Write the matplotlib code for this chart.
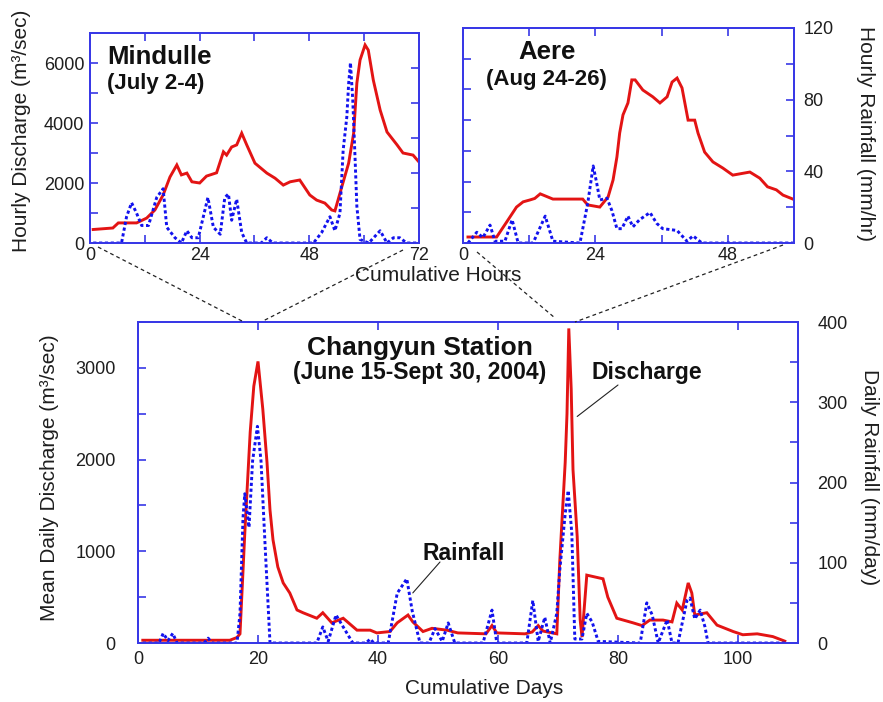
import matplotlib
matplotlib.use('Agg')
import matplotlib.pyplot as plt
from matplotlib.lines import Line2D

plt.rcParams['font.family'] = ['Liberation Sans', 'DejaVu Sans']

# ---------------- data ----------------
# Main chart: Changyun Station, daily values
days_q = [0.8, 15.3, 16.5, 17.0, 17.8, 18.7, 19.3, 20.0, 20.8, 21.5, 22.0, 22.5, 23.3, 24.2, 25.3,
          26.5, 27.5, 29.8, 30.8, 32.3, 34.2, 36.5, 38.7, 39.8, 42.0, 43.2, 45.0, 45.8, 47.5, 49.0,
          51.5, 53.3, 58.0, 59.0, 59.8, 64.5, 65.7, 66.7, 67.5, 69.8, 70.3, 71.2, 71.5, 71.8, 72.2,
          72.5, 73.2, 73.7, 74.0, 74.8, 77.5, 78.3, 79.8, 82.5, 84.0, 85.3, 87.5, 89.0, 89.8, 90.7,
          91.7, 92.3, 92.8, 94.8, 96.5, 99.2, 100.8, 103.2, 105.8, 107.8]
discharge_daily = [30, 30, 60, 100, 1200, 2300, 2800, 3070, 2550, 1970, 1450, 1125, 830, 655, 545,
                   360, 330, 270, 330, 220, 270, 140, 140, 110, 125, 220, 305, 230, 125, 160,
                   140, 110, 100, 190, 110, 100, 120, 190, 130, 100, 900, 1970, 2500, 3430, 2770,
                   1890, 1160, 250, 65, 740, 700, 500, 270, 220, 190, 250, 250, 230, 435, 360,
                   655, 545, 305, 330, 195, 125, 90, 100, 70, 20]

days_r = [0.8, 3.5, 4.2, 5.0, 5.8, 6.5, 11.0, 11.7, 12.3, 16.5, 17.0, 17.5, 17.8, 18.5, 19.1,
          19.9, 20.5, 21.2, 22.0, 29.8, 30.8, 31.7, 33.0, 34.2, 35.8, 38.0, 38.7, 39.3, 41.7, 43.2,
          44.8, 45.7, 47.0, 48.5, 49.5, 50.7, 51.7, 52.8, 57.5, 59.0, 59.8, 64.8, 65.8, 66.7, 67.8,
          68.7, 69.8, 70.3, 71.2, 71.7, 72.3, 72.8, 74.0, 74.8, 75.7, 76.7, 83.7, 84.8, 85.7, 86.7,
          88.2, 89.0, 90.0, 91.5, 92.0, 92.8, 93.7, 94.5, 95.0, 108.0]
rain_daily = [0, 0, 12, 3, 12, 0, 0, 6, 0, 0, 37, 156, 186, 144, 227,
              270, 227, 119, 0, 0, 20, 2, 35, 20, 0, 0, 5, 0, 0, 62,
              80, 40, 0, 0, 18, 2, 25, 0, 0, 41, 0, 0, 53, 2, 32,
              0, 37, 91, 161, 190, 137, 5, 5, 37, 26, 2, 0, 50, 35, 0,
              29, 0, 0, 53, 56, 30, 41, 20, 0, 0]

# Inset 1: Mindulle (July 2-4), hourly
hours_q1 = [0.7, 5.0, 6.2, 10.2, 12.4, 14.2, 16.0, 17.5, 19.0, 20.0, 21.2, 22.3, 24.0, 25.5, 27.7,
            29.2, 29.9, 31.0, 32.1, 33.2, 34.3, 36.1, 38.7, 40.5, 42.3, 43.8, 45.9, 48.1, 49.6, 51.4,
            52.9, 53.6, 55.1, 56.6, 57.7, 58.4, 59.1, 60.2, 60.9, 62.0, 63.5, 65.0, 67.2, 68.5, 70.7, 72.0]
discharge_m = [450, 500, 670, 670, 830, 1100, 1600, 2200, 2600, 2270, 2330, 2040, 2000, 2230, 2340,
               3040, 2930, 3200, 3270, 3660, 3270, 2660, 2330, 2160, 1930, 2040, 2100, 1600, 1430, 1330,
               1100, 1070, 1870, 2660, 3660, 5330, 6100, 6600, 6430, 5430, 4430, 3700, 3270, 3000, 2930, 2700]
hours_r1 = [0.7, 6.9, 8.0, 9.1, 10.2, 11.3, 12.8, 14.6, 16.0, 16.8, 18.6, 20.0, 21.2, 22.3, 23.7,
            24.8, 25.8, 27.0, 28.5, 29.5, 30.3, 31.0, 32.1, 33.2, 34.3, 37.5, 38.7, 40.0, 48.9, 50.7,
            52.5, 53.6, 54.7, 55.4, 56.2, 56.6, 57.0, 57.5, 58.0, 58.4, 59.1, 61.0, 63.5, 65.0, 66.4,
            67.8, 69.3, 72.0]
rain_m = [0, 0, 15, 23, 17, 10, 10, 26, 31, 9, 3, 0, 7, 3, 3,
          15, 26, 9, 5, 26, 28, 13, 25, 6, 0, 0, 3, 0, 0, 6,
          15, 7, 17, 53, 72, 91, 103, 82, 49, 21, 2, 0, 7, 0, 3,
          3, 0, 0]

# Inset 2: Aere (Aug 24-26), hourly
hours_q2 = [0.9, 6.1, 7.9, 9.7, 10.9, 12.1, 13.0, 14.0, 16.3, 18.1, 21.7, 22.6, 24.8, 26.3, 27.2,
            27.9, 28.4, 29.0, 29.9, 30.6, 31.2, 32.6, 34.4, 35.7, 37.0, 37.9, 38.8, 39.7, 40.8, 42.0,
            42.6, 43.8, 45.3, 47.1, 48.9, 52.0, 53.8, 55.2, 56.8, 58.0, 59.8]
discharge_a = [195, 195, 680, 1170, 1340, 1400, 1450, 1600, 1430, 1430, 1430, 1240, 1170, 1500, 2050,
               2800, 3580, 4170, 4560, 5310, 5310, 4980, 4760, 4560, 4760, 5240, 5370, 5050, 4000, 4000,
               3580, 2960, 2640, 2440, 2210, 2310, 2110, 1830, 1730, 1560, 1430]
hours_r2 = [0.9, 2.5, 3.6, 4.9, 5.8, 7.6, 8.9, 10.0, 12.7, 14.9, 16.3, 21.2, 22.6, 23.6, 24.2,
            24.8, 26.1, 27.0, 27.9, 28.8, 29.9, 30.8, 32.0, 33.9, 35.1, 36.2, 38.8, 40.6, 41.7, 43.3, 59.8]
rain_a = [0, 6, 3, 10, 1, 1, 13, 0, 0, 15, 1, 0, 22, 43, 34,
          24, 25, 18, 8, 8, 15, 9, 13, 17, 11, 8, 7, 1, 4, 0, 0]

# ticks / labels
inset_q_ticks = [0, 1000, 2000, 3000, 4000, 5000, 6000, 7000]
inset_q_labels = ['0', '', '2000', '', '4000', '', '6000', '']
inset_r_ticks = [0, 20, 40, 60, 80, 100, 120]
inset_r_labels = ['0', '', '40', '', '80', '', '120']
main_x_ticks = [0, 20, 40, 60, 80, 100]
main_q_ticks = [0, 500, 1000, 1500, 2000, 2500, 3000, 3500]
main_q_labels = ['0', '', '1000', '', '2000', '', '3000', '']
main_r_ticks = [0, 50, 100, 150, 200, 250, 300, 350, 400]
main_r_labels = ['0', '', '100', '', '200', '', '300', '', '400']

# ---------------- figure ----------------
W, H = 883, 702
fig = plt.figure(figsize=(W / 100, H / 100), dpi=100)


def rect(l, t, r, b):
    return [l / W, 1 - b / H, (r - l) / W, (b - t) / H]


def ftext(x, y, s, **kw):
    fig.text(x / W, 1 - y / H, s, ha='center', va='center', **kw)


FRAME = '#3838e6'
RED = '#e31414'
BLUE = '#1212ee'
TXT = '#1e1e1e'
DOT = (0, (1.1, 0.9))
LW = 2.1


def style(ax, axr, pad_l, pad_r, pad_b):
    for a in (ax, axr):
        for s in a.spines.values():
            s.set_color(FRAME)
            s.set_linewidth(1.3)
    ax.tick_params(axis='x', direction='in', colors=FRAME, labelcolor=TXT, length=6, width=1.2,
                   labelsize=13, top=True, pad=pad_b)
    ax.tick_params(axis='y', direction='in', colors=FRAME, labelcolor=TXT, length=6, width=1.2,
                   labelsize=13, pad=pad_l)
    axr.tick_params(axis='y', direction='in', colors=FRAME, labelcolor=TXT, length=6, width=1.2,
                    labelsize=13, pad=pad_r)


# ---- inset 1: Mindulle
ax1 = fig.add_axes(rect(90, 33, 419, 243))
ax1r = ax1.twinx()
ax1.plot(hours_q1, discharge_m, color=RED, lw=LW, solid_joinstyle='miter')
ax1r.plot(hours_r1, rain_m, color=BLUE, lw=LW, linestyle=DOT)
ax1.set_xlim(0, 72)
ax1.set_ylim(0, 7000)
ax1r.set_ylim(0, 120)
ax1.set_xticks([0, 12, 24, 36, 48, 60, 72])
ax1.set_xticklabels(['0', '', '24', '', '48', '', '72'])
ax1.set_yticks(inset_q_ticks)
ax1.set_yticklabels(inset_q_labels)
ax1r.set_yticks(inset_r_ticks)
ax1r.set_yticklabels([''] * len(inset_r_ticks))
style(ax1, ax1r, 4, 4, 3)

# ---- inset 2: Aere
ax2 = fig.add_axes(rect(463, 28, 794, 243))
ax2r = ax2.twinx()
ax2.plot(hours_q2, discharge_a, color=RED, lw=LW, solid_joinstyle='miter')
ax2r.plot(hours_r2, rain_a, color=BLUE, lw=LW, linestyle=DOT)
ax2.set_xlim(0, 60)
ax2.set_ylim(0, 7000)
ax2r.set_ylim(0, 120)
ax2.set_xticks([0, 12, 24, 36, 48, 60])
ax2.set_xticklabels(['0', '', '24', '', '48', ''])
ax2.set_yticks(inset_q_ticks)
ax2.set_yticklabels([''] * len(inset_q_ticks))
ax2r.set_yticks(inset_r_ticks)
ax2r.set_yticklabels(inset_r_labels)
style(ax2, ax2r, 4, 7, 3)

# ---- main chart
ax3 = fig.add_axes(rect(138, 322, 798, 643))
ax3r = ax3.twinx()
ax3.plot(days_q, discharge_daily, color=RED, lw=LW, solid_joinstyle='miter')
ax3r.plot(days_r, rain_daily, color=BLUE, lw=LW, linestyle=DOT)
ax3.set_xlim(0, 110)
ax3.set_ylim(0, 3500)
ax3r.set_ylim(0, 400)
ax3.set_xticks(main_x_ticks)
ax3.set_yticks(main_q_ticks)
ax3.set_yticklabels(main_q_labels)
ax3r.set_yticks(main_r_ticks)
ax3r.set_yticklabels(main_r_labels)
style(ax3, ax3r, 16, 14, 6)

# leader lines
ax3.annotate('', xy=(73.2, 2470), xytext=(618, H - 385), textcoords='figure pixels',
             arrowprops=dict(arrowstyle='-', color='#222', lw=0.8, shrinkA=0, shrinkB=0))
ax3.annotate('', xy=(45.8, 546), xytext=(440, H - 562), textcoords='figure pixels',
             arrowprops=dict(arrowstyle='-', color='#222', lw=0.8, shrinkA=0, shrinkB=0))

# connector dashed lines (figure pixels)
for (xa, ya, xb, yb) in [(98, 247, 242, 321), (403, 250, 263, 321),
                         (477, 252, 555, 318), (783, 245, 575, 322)]:
    fig.add_artist(Line2D([xa / W, xb / W], [1 - ya / H, 1 - yb / H], transform=fig.transFigure,
                          color='#222', lw=0.9, linestyle=(0, (3, 2.5))))

# ---- texts
ftext(22, 131, 'Hourly Discharge (m³/sec)', rotation=90, fontsize=15, color=TXT)
ftext(865, 133, 'Hourly Rainfall (mm/hr)', rotation=270, fontsize=15, color=TXT)
ftext(438, 276, 'Cumulative Hours', fontsize=15, color=TXT)
ftext(50, 478, 'Mean Daily Discharge (m³/sec)', rotation=90, fontsize=15, color=TXT)
ftext(870, 477, 'Daily Rainfall (mm/day)', rotation=270, fontsize=15, color=TXT)
ftext(484, 688, 'Cumulative Days', fontsize=15, color=TXT)

fig.text(107 / W, 1 - 57 / H, 'Mindulle', ha='left', va='center', fontsize=18.5, fontweight='bold', color='#111')
fig.text(107 / W, 1 - 83 / H, '(July 2-4)', ha='left', va='center', fontsize=16, fontweight='bold', color='#111')
ftext(547, 52, 'Aere', fontsize=18.5, fontweight='bold', color='#111')
ftext(546, 80, '(Aug 24-26)', fontsize=16, fontweight='bold', color='#111')
ftext(420, 348, 'Changyun Station', fontsize=19, fontweight='bold', color='#111')
ftext(420, 373, '(June 15-Sept 30, 2004)', fontsize=16.5, fontweight='bold', color='#111')
ftext(647, 372, 'Discharge', fontsize=16.5, fontweight='bold', color='#111')
ftext(464, 553, 'Rainfall', fontsize=16.5, fontweight='bold', color='#111')

fig.savefig('out.png', dpi=100)
